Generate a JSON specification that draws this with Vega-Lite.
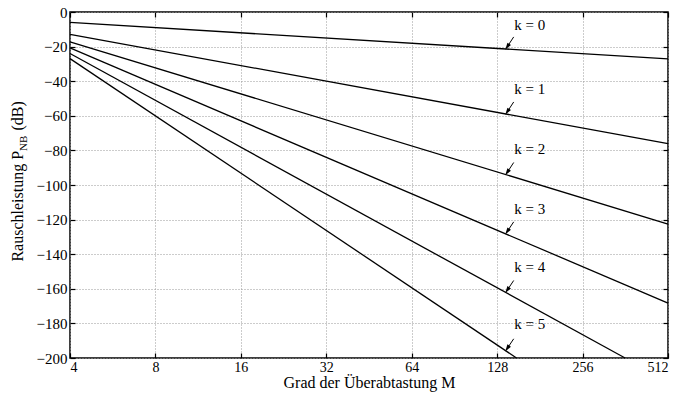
{
  "$schema": "https://vega.github.io/schema/vega-lite/v6.json",
  "width": 598,
  "height": 346,
  "autosize": {"type": "none"},
  "padding": {"left": 70, "top": 12, "right": 14, "bottom": 36},
  "background": "white",
  "config": {
    "view": {"stroke": "black", "strokeWidth": 1.5},
    "font": "Liberation Serif",
    "axis": {
      "labelFont": "Liberation Serif",
      "titleFont": "Liberation Serif",
      "labelFontSize": 15,
      "titleFontSize": 16,
      "labelColor": "black",
      "titleColor": "black",
      "titleFontWeight": "normal",
      "tickColor": "black",
      "tickWidth": 1.2,
      "domain": false,
      "gridColor": "#999999",
      "gridDash": [1, 2],
      "gridWidth": 1,
      "gridOpacity": 1
    }
  },
  "datasets": {
    "lines": [
      {"k": 0, "M": 4, "P": -6.02}, {"k": 0, "M": 512, "P": -27.09},
      {"k": 1, "M": 4, "P": -12.89}, {"k": 1, "M": 512, "P": -76.11},
      {"k": 2, "M": 4, "P": -17.21}, {"k": 2, "M": 512, "P": -122.57},
      {"k": 3, "M": 4, "P": -20.76}, {"k": 3, "M": 512, "P": -168.28},
      {"k": 4, "M": 4, "P": -23.99}, {"k": 4, "M": 361.5, "P": -200},
      {"k": 5, "M": 4, "P": -26.93}, {"k": 5, "M": 149.8, "P": -200}
    ],
    "annot": [
      {"label": "k = 0", "headM": 138.9, "headP": -20.1, "tailM": 146.4, "tailP": -14.4, "textM": 166.8, "textP": -7.5},
      {"label": "k = 1", "headM": 138.9, "headP": -57.7, "tailM": 146.4, "tailP": -52.0, "textM": 166.8, "textP": -44.5},
      {"label": "k = 2", "headM": 138.9, "headP": -92.7, "tailM": 146.4, "tailP": -87.0, "textM": 166.8, "textP": -79.2},
      {"label": "k = 3", "headM": 138.9, "headP": -126.9, "tailM": 146.4, "tailP": -121.3, "textM": 166.8, "textP": -113.9},
      {"label": "k = 4", "headM": 138.9, "headP": -160.8, "tailM": 146.4, "tailP": -155.2, "textM": 166.8, "textP": -147.4},
      {"label": "k = 5", "headM": 138.9, "headP": -194.5, "tailM": 146.4, "tailP": -188.9, "textM": 166.8, "textP": -180.3}
    ]
  },
  "resolve": {"axis": {"x": "independent", "y": "independent"}},
  "layer": [
    {
      "data": {"name": "lines"},
      "mark": {"type": "line", "color": "black", "strokeWidth": 1.3},
      "encoding": {
        "x": {
          "field": "M", "type": "quantitative",
          "scale": {"type": "log", "base": 2, "domain": [4, 512], "nice": false},
          "axis": {"orient": "bottom", "values": [4, 8, 16, 32, 64, 128, 256, 512], "format": "d", "grid": true, "tickSize": -5, "labelPadding": 7, "labelFontSize": 14, "title": "Grad der Überabtastung M", "titlePadding": 0}
        },
        "y": {
          "field": "P", "type": "quantitative",
          "scale": {"domain": [-200, 0], "nice": false},
          "axis": {"orient": "left", "values": [-200, -180, -160, -140, -120, -100, -80, -60, -40, -20, 0], "grid": true, "tickSize": -5, "labelPadding": 8, "title": null}
        },
        "detail": {"field": "k"}
      }
    },
    {
      "data": {"name": "lines"},
      "mark": {"type": "line", "opacity": 0},
      "encoding": {
        "x": {
          "field": "M", "type": "quantitative",
          "axis": {"orient": "top", "values": [4, 8, 16, 32, 64, 128, 256, 512], "labels": false, "grid": false, "tickSize": -5, "title": null}
        },
        "y": {
          "field": "P", "type": "quantitative",
          "axis": {"orient": "right", "values": [-200, -180, -160, -140, -120, -100, -80, -60, -40, -20, 0], "labels": false, "grid": false, "tickSize": -5, "title": null}
        },
        "detail": {"field": "k"}
      }
    },
    {
      "data": {"name": "annot"},
      "mark": {"type": "rule", "color": "black", "strokeWidth": 1},
      "encoding": {
        "x": {"field": "tailM", "type": "quantitative", "axis": null},
        "y": {"field": "tailP", "type": "quantitative", "axis": null},
        "x2": {"field": "headM"},
        "y2": {"field": "headP"}
      }
    },
    {
      "data": {"name": "annot"},
      "mark": {"type": "point", "shape": "M0,-1L0.6,1L-0.6,1Z", "filled": true, "fill": "black", "stroke": null, "opacity": 1, "size": 50, "angle": 214},
      "encoding": {
        "x": {"field": "headM", "type": "quantitative", "axis": null},
        "y": {"field": "headP", "type": "quantitative", "axis": null}
      }
    },
    {
      "data": {"name": "annot"},
      "mark": {"type": "text", "fontSize": 15, "align": "center", "baseline": "middle", "color": "black"},
      "encoding": {
        "x": {"field": "textM", "type": "quantitative", "axis": null},
        "y": {"field": "textP", "type": "quantitative", "axis": null},
        "text": {"field": "label"}
      }
    },
    {
      "data": {"values": [{"part": "Rauschleistung P", "x": 4, "y": -80.3}]},
      "mark": {"type": "text", "fontSize": 16, "align": "right", "baseline": "middle", "angle": 270, "dy": -52, "color": "black"},
      "encoding": {
        "x": {"field": "x", "type": "quantitative", "axis": null},
        "y": {"field": "y", "type": "quantitative", "axis": null},
        "text": {"field": "part"}
      }
    },
    {
      "data": {"values": [{"part": "NB", "x": 4, "y": -80.3}]},
      "mark": {"type": "text", "fontSize": 11, "align": "left", "baseline": "middle", "angle": 270, "dy": -46, "color": "black"},
      "encoding": {
        "x": {"field": "x", "type": "quantitative", "axis": null},
        "y": {"field": "y", "type": "quantitative", "axis": null},
        "text": {"field": "part"}
      }
    },
    {
      "data": {"values": [{"part": "(dB)", "x": 4, "y": -68.5}]},
      "mark": {"type": "text", "fontSize": 16, "align": "left", "baseline": "middle", "angle": 270, "dy": -52, "color": "black"},
      "encoding": {
        "x": {"field": "x", "type": "quantitative", "axis": null},
        "y": {"field": "y", "type": "quantitative", "axis": null},
        "text": {"field": "part"}
      }
    }
  ]
}
